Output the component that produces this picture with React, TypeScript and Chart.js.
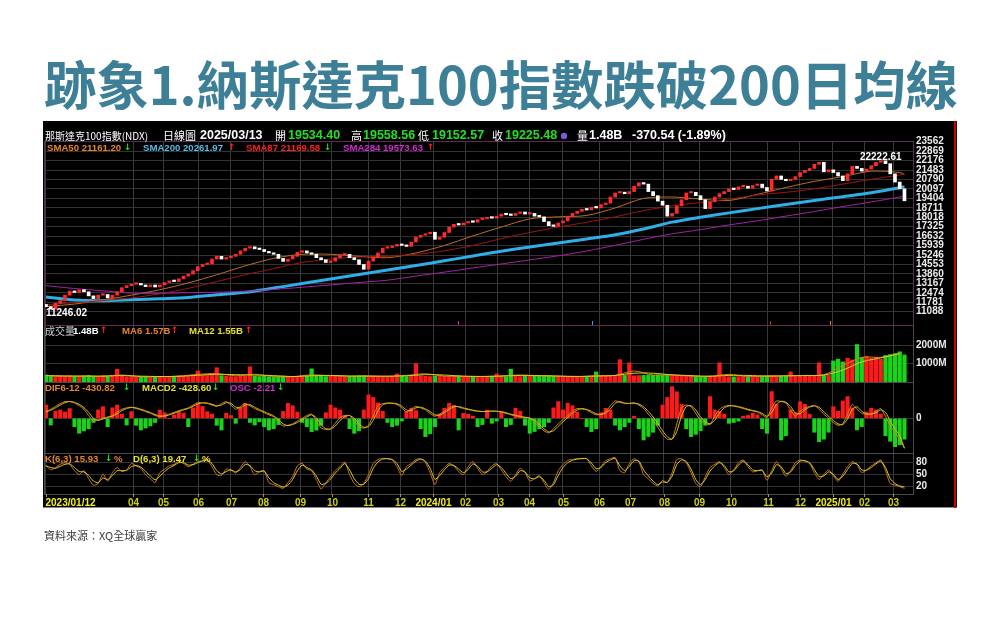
import { useEffect, useRef } from 'react';
import { Chart, registerables } from 'chart.js';

Chart.register(...registerables);

const TITLE = '跡象1.納斯達克100指數跌破200日均線';
const SOURCE = '資料來源：XQ全球贏家';

// Price closes, one value per 3 trading days (2023/01/12 .. 2025/03/13)
const CLOSE = [
  11460, 11280, 11700, 11900, 12300, 12600, 12500, 12700, 12550, 12250,
  12050, 12300, 12350, 12100, 12300, 12560, 12850, 13000, 13100, 13150,
  13050, 12930, 13050, 12900, 13050, 13230, 13350, 13300, 13500, 13700,
  13850, 14100, 14400, 14550, 14600, 14950, 15150, 14950, 15050, 15150,
  15300, 15550, 15750, 15850, 15700, 15650, 15500, 15400, 15300, 15000,
  14780, 14950, 15150, 15450, 15550, 15400, 15300, 15050, 14900, 14700,
  14800, 15050, 15250, 15300, 15050, 14900, 14550, 14200, 14800, 15100,
  15400, 15750, 15800, 15900, 16030, 15950, 15880, 16200, 16550, 16700,
  16800, 16920, 16400, 16550, 16900, 17300, 17500, 17450, 17600, 17700,
  17650, 17850, 17900, 18000, 17950, 18100, 18250, 18200, 18150, 18300,
  18400, 18250, 18300, 18100, 18050, 17700, 17400, 17350, 17600, 17750,
  18100, 18300, 18450, 18600, 18550, 18750, 18700, 18950, 19050, 19500,
  19800, 19850, 19750, 19900, 20300, 20550, 20450, 19900, 19600, 19200,
  18900, 18100, 18300, 18850, 19300, 19800, 19850, 19600, 19300, 18650,
  19150, 19500, 19750, 19900, 20100, 20050, 20250, 20300, 20150, 20350,
  20450, 20200, 19950, 20800, 21050, 20800, 20700, 20800, 21000, 21300,
  21450, 21600, 21900, 22050, 21350, 21500, 21300, 21050, 20700, 21200,
  21750, 21600, 21400, 21550, 21800, 22050, 22150, 21950, 21200, 20600,
  20100, 19225.48,
];
const FIRST_OPEN = 11620;

// Volume (M), same 3-day steps
const VOLUME = [
  380, 350, 320, 330, 300, 340, 310, 290, 330, 360,
  320, 300, 340, 310, 330, 700, 320, 290, 300, 280,
  270, 300, 260, 290, 310, 280, 300, 320, 340, 310,
  330, 350, 600, 380, 360, 400, 780, 350, 320, 300,
  290, 310, 330, 830, 320, 300, 310, 290, 280, 300,
  320, 300, 280, 290, 300, 310, 720, 330, 320, 300,
  310, 330, 300, 290, 310, 320, 340, 350, 330, 320,
  300, 310, 290, 300, 440, 330, 300, 320, 1000, 340,
  310, 300, 320, 330, 310, 300, 320, 330, 310, 300,
  290, 310, 300, 290, 310, 440, 300, 290, 700, 320,
  300, 310, 330, 320, 340, 330, 350, 320, 310, 300,
  290, 280, 300, 310, 290, 300, 550, 310, 320, 340,
  330, 1220, 360, 1050, 340, 350, 360, 380, 370, 400,
  390, 420, 380, 360, 340, 330, 320, 310, 300, 320,
  330, 310, 1050, 300, 290, 280, 300, 310, 300, 320,
  310, 330, 340, 350, 330, 320, 310, 550, 300, 310,
  320, 330, 340, 1050, 360, 380, 1150, 1250, 1100, 1300,
  1200, 2050, 1350, 1400, 1300, 1350, 1250, 1450, 1500, 1550,
  1650, 1480,
];

// Volume moving averages, one value per 4 steps
const VOL_MA6 = [
  340, 320, 320, 320, 380, 290, 290, 320, 420, 460,
  340, 420, 300, 290, 390, 340, 310, 330, 310, 360,
  450, 320, 310, 300, 340, 380, 330, 320, 290, 350,
  360, 600, 380, 390, 320, 310, 420, 300, 330, 340,
  360, 400, 900, 1350, 1350, 1570,
];
const VOL_MA12 = [
  350, 330, 325, 320, 350, 320, 300, 310, 370, 420,
  400, 380, 350, 300, 340, 360, 330, 320, 320, 340,
  400, 380, 320, 305, 320, 360, 350, 325, 305, 320,
  360, 480, 480, 390, 350, 315, 360, 360, 320, 335,
  350, 380, 650, 1100, 1320, 1550,
];

// Price moving averages, one value per 6 steps (last = final day)
const SMA50 = [11460, 11650, 11950, 12300, 12700, 13200, 13800, 14450, 15000, 15300, 15300, 15150, 15050, 15400, 15950, 16650, 17300, 17900, 18050, 18150, 18700, 19400, 19500, 19350, 19250, 19700, 20200, 20650, 21000, 21400, 21300, 21161.2];
const SMA200 = [12170, 11950, 11900, 11960, 12040, 12130, 12330, 12510, 12820, 13150, 13480, 13820, 14150, 14480, 14820, 15180, 15530, 15840, 16130, 16420, 16730, 17160, 17660, 18020, 18340, 18650, 18950, 19250, 19530, 19820, 20180, 20261.97];
const SMA87 = [11600, 11750, 11900, 12100, 12400, 12800, 13300, 13800, 14250, 14700, 14950, 15100, 15150, 15300, 15550, 15950, 16450, 16900, 17300, 17650, 18050, 18500, 18850, 19100, 19350, 19650, 19850, 20100, 20450, 20800, 21120, 21169.58];
const SMA284 = [13000, 12790, 12620, 12450, 12440, 12480, 12520, 12580, 12720, 12880, 13050, 13230, 13400, 13700, 13990, 14300, 14590, 14890, 15190, 15540, 15960, 16400, 16800, 17110, 17450, 17760, 18100, 18440, 18800, 19140, 19500, 19573.63];

// MACD
const DIF = [
  100, 130, 170, 210, 240, 240, 220, 180, 130, 40,
  -40, -20, 0, 20, 40, 90, 130, 150, 160, 140,
  120, 95, 70, 40, 25, 40, 60, 85, 110, 130,
  150, 190, 224, 220, 215, 190, 170, 210, 240, 190,
  130, 170, 210, 180, 140, 110, 80, 50, 20, -50,
  -110, -100, -80, -40, 0, 40, 60, -40, -140, -160,
  -150, -70, 10, 40, 40, -40, -120, -140, -100, 40,
  180, 210, 220, 215, 200, 150, 90, 130, 170, 150,
  120, 70, 30, 60, 100, 150, 180, 160, 140, 125,
  110, 100, 95, 100, 105, 100, 90, 70, 50, 35,
  20, 10, 0, -60, -120, -180, -210, -150, -80, -20,
  40, 100, 140, 135, 120, 80, 50, 60, 90, 180,
  250, 230, 210, 215, 220, 190, 140, 60, -20, -130,
  -230, -300, -300, -80, 150, 190, 170, 70, -30, -70,
  -90, 30, 130, 170, 185, 175, 160, 140, 120, 105,
  90, 50, 10, 150, 250, 240, 220, 120, 30, 100,
  150, 170, 185, 130, 60, 0, -60, -100, -80, 60,
  200, 130, 70, 60, 60, 100, 140, 30, -110, -200,
  -300, -430.82,
];
const MACD = [
  90, 115, 150, 190, 225, 240, 230, 200, 155, 85,
  0, -30, -10, 10, 30, 65, 110, 140, 155, 150,
  130, 108, 82, 55, 32, 32, 50, 72, 98, 120,
  140, 170, 207, 222, 218, 202, 180, 190, 225, 215,
  160, 150, 190, 195, 160, 125, 95, 65, 35, -15,
  -80, -105, -90, -60, -20, 20, 50, 10, -90, -150,
  -155, -110, -30, 25, 40, 0, -80, -130, -120, -30,
  110, 195, 215, 218, 208, 175, 120, 110, 150, 160,
  135, 95, 50, 45, 80, 125, 165, 170, 150, 132,
  118, 105, 98, 98, 102, 102, 95, 80, 60, 42,
  28, 15, 5, -30, -90, -150, -195, -180, -115, -50,
  10, 70, 120, 138, 128, 100, 65, 55, 75, 135,
  215, 240, 220, 212, 218, 205, 165, 100, 20, -75,
  -180, -265, -300, -190, 35, 170, 180, 120, 20, -50,
  -80, -30, 80, 150, 178, 180, 168, 150, 130, 112,
  98, 70, 30, 80, 200, 245, 230, 170, 75, 65,
  125, 160, 178, 158, 95, 30, -30, -80, -90, -10,
  130, 165, 100, 65, 60, 80, 120, 85, -40, -155,
  -250, -428.6,
];
const OSC = [
  191, -96, 100, 119, 90, 140, -120, -215, -180, -150,
  -60, 120, 167, -120, 150, 191, 60, -96, 96, -100,
  -168, -140, -110, -60, 119, 80, 0, 50, 96, 70,
  -120, 150, 215, 170, 96, 60, -100, -168, 72, 40,
  -72, 150, 215, -60, -96, -50, -120, -168, -150, -90,
  100, 215, 180, 90, -60, -120, -191, -170, -100, 80,
  191, 150, 120, 40, -150, -215, -180, 120, 335, 300,
  220, 100, -60, -120, -100, -40, 100, 144, 110, -150,
  -263, -220, -120, 60, 144, 215, 180, -168, 72, 60,
  30, -120, -90, 119, -72, -40, 96, -120, -90, 143,
  100, -100, -215, -190, -150, -120, -60, 150, 239, 120,
  215, 180, 90, 0, -120, -191, -150, 80, 143, 120,
  -100, -167, -120, -60, 30, -150, -311, -260, -200, -100,
  190, 300, 454, 380, 200, -150, -263, -230, -180, -100,
  311, 120, 100, 60, -72, -60, -40, 30, 40, 72,
  50, -150, -215, 383, 200, -311, -250, 120, 80, 239,
  200, 60, -200, -335, -300, -200, 167, 100, 250, 311,
  150, -167, -120, 90, 143, 120, 60, -250, -330, -407,
  -380, -300,
];

// KD
const K_VALUES = [
  74, 62, 68, 76, 80, 76, 60, 50, 60, 40,
  24, 28, 52, 34, 55, 68, 58, 62, 78, 72,
  66, 50, 40, 30, 55, 64, 72, 76, 83, 78,
  70, 76, 83, 85, 87, 70, 50, 48, 64, 62,
  54, 68, 83, 70, 50, 58, 60, 30, 25, 20,
  16, 30, 45, 72, 79, 64, 60, 38, 14, 30,
  45, 60, 70, 82, 50, 28, 20, 28, 50, 78,
  88, 91, 90, 87, 70, 48, 70, 78, 88, 90,
  80, 55, 25, 55, 68, 78, 72, 58, 50, 70,
  83, 66, 50, 58, 72, 78, 62, 45, 33, 50,
  66, 55, 34, 40, 48, 30, 13, 30, 60, 75,
  86, 88, 90, 91, 90, 72, 58, 70, 85, 90,
  93, 60, 55, 78, 90, 82, 50, 40, 28, 22,
  36, 30, 55, 88, 90, 80, 55, 28, 20, 45,
  68, 76, 83, 68, 50, 62, 80, 87, 70, 57,
  60, 62, 36, 60, 83, 65, 46, 60, 80, 87,
  84, 78, 55, 38, 50, 62, 48, 33, 52, 70,
  83, 75, 55, 62, 72, 80, 87, 60, 28, 24,
  20, 15.93,
];
const D_VALUES = [
  72, 68, 66, 71, 76, 77, 68, 58, 57, 48,
  34, 30, 42, 38, 48, 60, 60, 61, 70, 73,
  69, 58, 47, 37, 46, 58, 67, 73, 80, 80,
  74, 75, 80, 84, 86, 78, 60, 52, 58, 62,
  57, 63, 76, 73, 60, 57, 59, 42, 30, 24,
  19, 24, 38, 60, 74, 68, 62, 47, 26, 28,
  39, 54, 66, 78, 62, 40, 26, 26, 40, 66,
  82, 89, 90, 88, 78, 58, 64, 74, 84, 89,
  84, 66, 38, 48, 62, 74, 73, 64, 55, 63,
  77, 71, 57, 57, 66, 75, 68, 53, 40, 46,
  60, 57, 42, 40, 45, 36, 20, 25, 48, 68,
  80, 86, 89, 90, 90, 79, 65, 68, 80, 87,
  91, 72, 60, 71, 85, 84, 62, 47, 34, 25,
  32, 31, 46, 76, 87, 83, 64, 38, 25, 38,
  59, 72, 80, 73, 57, 60, 74, 84, 75, 62,
  60, 61, 45, 54, 75, 70, 53, 57, 73, 84,
  85, 80, 63, 45, 47, 57, 51, 38, 46, 63,
  78, 77, 62, 61, 68, 77, 84, 68, 40, 28,
  22, 19.47,
];

// Axis ticks
const PRICE_TICKS = [23562, 22869, 22176, 21483, 20790, 20097, 19404, 18711, 18018, 17325, 16632, 15939, 15246, 14553, 13860, 13167, 12474, 11781, 11088];
const VOLUME_TICKS = [2000, 1000];
const MACD_TICKS = [0];
const KD_TICKS = [80, 50, 20];
const MONTH_POS = [0, 18.35, 24.7, 32.05, 39, 45.8, 53.6, 60.3, 67.9, 74.7, 81.6, 88.4, 95.3, 101.9, 109, 116.6, 123.2, 130.3, 137.7, 144.4, 152.2, 158.9, 165.9, 172.5, 178.6];
const MONTH_LABELS = ['2023/01/12', '04', '05', '06', '07', '08', '09', '10', '11', '12', '2024/01', '02', '03', '04', '05', '06', '07', '08', '09', '10', '11', '12', '2025/01', '02', '03'];

// Header / legend values
const HEADER_NAME = '那斯達克100指數(NDX)';
const HEADER_DATE = '2025/03/13';
const HEADER_OHLC = ['19534.40', '19558.56', '19152.57', '19225.48'];
const HEADER_VOL = '1.48B';
const HEADER_CHANGE = '-370.54 (-1.89%)';
const SMA_LAST = ['21161.20', '20261.97', '21169.58', '19573.63'];
const VOL_LAST = ['1.48B', '1.57B', '1.55B'];
const MACD_LAST = ['-430.82', '-428.60', '-2.21'];
const KD_LAST = ['15.93', '19.47'];
const EXTREME_VALUES = [11246.02, 22222.61];
const EXTREME_POS = [0, 176];
const MARK_POS = [86.9, 115.1, 152.7, 165.3];

const SMA_STEP = 6;
const VOL_MA_STEP = 4;
const LAST_K = CLOSE.length - 1;

const F_NUM = 'bold 10px "Liberation Sans", Arial, sans-serif';
const F_LEG = 'bold 9.6px "Liberation Sans", Arial, sans-serif';
const F_HEAD = 'bold 12.5px "Liberation Sans", Arial, sans-serif';
const F_CJK = '10px "Noto Sans CJK TC", sans-serif';
const F_CJK_H = '11px "Noto Sans CJK TC", sans-serif';
const F_ARROW = 'bold 9px "DejaVu Sans", sans-serif';
const GREEN_TXT = '#22e022';
const RED_TXT = '#ff2020';
const C_ORANGE = '#e8842a';
const C_YELLOW = '#e6e030';
const C_MAGENTA = '#d42ad4';

function txt(ctx: CanvasRenderingContext2D, s: string, x: number, y: number, color: string, font: string, align: CanvasTextAlign = 'left') {
  ctx.font = font;
  ctx.fillStyle = color;
  ctx.textAlign = align;
  ctx.textBaseline = 'middle';
  ctx.fillText(s, x, y);
}

const pagePlugin = {
  id: 'page',
  beforeDraw(chart: any) {
    const ctx: CanvasRenderingContext2D = chart.ctx;
    ctx.save();
    ctx.fillStyle = '#ffffff';
    ctx.fillRect(0, 0, 1000, 630);
    // title fitted to width
    let size = 53;
    ctx.font = `bold ${size}px "Noto Sans CJK TC", sans-serif`;
    const w = ctx.measureText(TITLE).width;
    size = size * 914 / w;
    txt(ctx, TITLE, 44, 85, '#3e7f98', `bold ${size}px "Noto Sans CJK TC", sans-serif`);
    txt(ctx, SOURCE, 44, 536, '#3a3a3a', '11px "Noto Sans CJK TC", sans-serif');
    ctx.fillStyle = '#000000';
    ctx.fillRect(43, 121, 914, 387);
    ctx.restore();
  },
  afterDraw(chart: any) {
    const ctx: CanvasRenderingContext2D = chart.ctx;
    const { left, right } = chart.chartArea;
    const x = chart.scales.x;
    const yP = chart.scales.yPrice;
    const yV = chart.scales.yVol;
    const yM = chart.scales.yMacd;
    const yK = chart.scales.yKd;
    ctx.save();
    // panel borders
    ctx.lineWidth = 1;
    ctx.strokeStyle = '#5e2a52';
    ctx.strokeRect(left + 0.5, yP.top + 0.5, right - left, yP.bottom - yP.top);
    ctx.strokeStyle = '#4a4a4a';
    [yV, yM, yK].forEach((s: any) => ctx.strokeRect(left + 0.5, s.top + 0.5, right - left, s.bottom - s.top));
    ctx.strokeStyle = '#5e2a52';
    ctx.beginPath();
    ctx.moveTo(left, yP.bottom + 0.5); ctx.lineTo(right, yP.bottom + 0.5);
    ctx.stroke();
    // bottom border of picture
    ctx.strokeStyle = '#8a8a8a';
    ctx.beginPath();
    ctx.moveTo(43, 507.5); ctx.lineTo(957, 507.5);
    ctx.stroke();
    // right red line
    ctx.fillStyle = '#d40000';
    ctx.fillRect(954, 121, 2, 387);

    // y tick labels
    PRICE_TICKS.forEach((v) => txt(ctx, String(v), right + 3, yP.getPixelForValue(v), '#ececec', F_NUM));
    VOLUME_TICKS.forEach((v) => txt(ctx, `${v}M`, right + 3, yV.getPixelForValue(v), '#ececec', F_NUM));
    MACD_TICKS.forEach((v) => txt(ctx, String(v), right + 3, yM.getPixelForValue(v), '#ececec', F_NUM));
    KD_TICKS.forEach((v) => txt(ctx, String(v), right + 3, yK.getPixelForValue(v), '#ececec', F_NUM));

    // date axis
    const axisBottom = yK.bottom;
    MONTH_POS.forEach((p, i) => {
      const px = Math.round(x.getPixelForValue(p)) + 0.5;
      ctx.strokeStyle = '#9a9a40';
      ctx.beginPath();
      ctx.moveTo(px, axisBottom); ctx.lineTo(px, axisBottom + 3);
      ctx.stroke();
      const label = MONTH_LABELS[i];
      const isYear = label.includes('/');
      const color = isYear ? '#f4f020' : '#d2d010';
      if (i === 0) txt(ctx, label, px - 1, 503, color, F_NUM, 'left');
      else txt(ctx, label, px, 503, color, F_NUM, 'center');
    });

    // header
    const hy = 136;
    txt(ctx, HEADER_NAME, 45, hy, '#ffffff', F_CJK);
    txt(ctx, '日線圖', 163, hy, '#ffffff', F_CJK_H);
    txt(ctx, HEADER_DATE, 200, hy, '#ffffff', F_HEAD);
    const ohlcNames = ['開', '高', '低', '收'];
    const nameX = [275, 351, 418, 492];
    const valX = [288, 363, 432, 505];
    ohlcNames.forEach((n, i) => {
      txt(ctx, n, nameX[i], hy, '#ffffff', F_CJK_H);
      txt(ctx, HEADER_OHLC[i], valX[i], hy, GREEN_TXT, F_HEAD);
    });
    ctx.fillStyle = '#7a5cd0';
    ctx.beginPath(); ctx.arc(564, hy, 3.2, 0, Math.PI * 2); ctx.fill();
    txt(ctx, '量', 577, hy, '#ffffff', F_CJK_H);
    txt(ctx, HEADER_VOL, 589, hy, '#ffffff', F_HEAD);
    txt(ctx, HEADER_CHANGE, 632, hy, '#ffffff', F_HEAD);

    // SMA legend
    const sy = 148;
    txt(ctx, `SMA50 ${SMA_LAST[0]}`, 47, sy, C_ORANGE, F_LEG);
    txt(ctx, '↓', 124, sy, GREEN_TXT, F_ARROW);
    txt(ctx, `SMA200 ${SMA_LAST[1]}`, 143, sy, '#56bce8', F_LEG);
    txt(ctx, '↑', 228, sy, RED_TXT, F_ARROW);
    txt(ctx, `SMA87 ${SMA_LAST[2]}`, 246, sy, RED_TXT, F_LEG);
    txt(ctx, '↓', 324, sy, GREEN_TXT, F_ARROW);
    txt(ctx, `SMA284 ${SMA_LAST[3]}`, 343, sy, C_MAGENTA, F_LEG);
    txt(ctx, '↑', 427, sy, RED_TXT, F_ARROW);

    // volume legend
    const vy = 331;
    txt(ctx, '成交量', 45, vy, '#d0d0d0', F_CJK);
    txt(ctx, VOL_LAST[0], 73, vy, '#ffffff', F_LEG);
    txt(ctx, '↑', 100, vy, RED_TXT, F_ARROW);
    txt(ctx, `MA6 ${VOL_LAST[1]}`, 122, vy, C_ORANGE, F_LEG);
    txt(ctx, '↑', 171, vy, RED_TXT, F_ARROW);
    txt(ctx, `MA12 ${VOL_LAST[2]}`, 189, vy, C_YELLOW, F_LEG);
    txt(ctx, '↑', 245, vy, RED_TXT, F_ARROW);

    // MACD legend
    const my = 388;
    txt(ctx, `DIF6-12 ${MACD_LAST[0]}`, 45, my, C_ORANGE, F_LEG);
    txt(ctx, '↓', 123, my, GREEN_TXT, F_ARROW);
    txt(ctx, `MACD2 ${MACD_LAST[1]}`, 142, my, C_YELLOW, F_LEG);
    txt(ctx, '↓', 212, my, GREEN_TXT, F_ARROW);
    txt(ctx, `OSC ${MACD_LAST[2]}`, 230, my, C_MAGENTA, F_LEG);
    txt(ctx, '↓', 277, my, GREEN_TXT, F_ARROW);

    // KD legend
    const ky = 459;
    txt(ctx, `K(6,3) ${KD_LAST[0]}`, 45, ky, C_ORANGE, F_LEG);
    txt(ctx, '↓', 105, ky, GREEN_TXT, F_ARROW);
    txt(ctx, '%', 114, ky, C_ORANGE, F_LEG);
    txt(ctx, `D(6,3) ${KD_LAST[1]}`, 133, ky, C_YELLOW, F_LEG);
    txt(ctx, '↓', 193, ky, GREEN_TXT, F_ARROW);
    txt(ctx, '%', 202, ky, C_YELLOW, F_LEG);

    // extreme labels
    txt(ctx, EXTREME_VALUES[0].toFixed(2), x.getPixelForValue(EXTREME_POS[0]), yP.getPixelForValue(EXTREME_VALUES[0]) + 3.5, '#ffffff', F_NUM, 'left');
    txt(ctx, EXTREME_VALUES[1].toFixed(2), x.getPixelForValue(EXTREME_POS[1]), yP.getPixelForValue(EXTREME_VALUES[1]) - 3, '#ffffff', F_NUM, 'center');

    // small signal marks at bottom of price panel
    const markColors = ['#c020c0', '#40a0e0', '#e02020', '#e08020'];
    MARK_POS.forEach((p, i) => {
      ctx.fillStyle = markColors[i];
      ctx.fillRect(Math.round(x.getPixelForValue(p)), yP.bottom - 4, 1, 4);
    });
    ctx.restore();
  },
};

export default function App() {
  const ref = useRef<HTMLCanvasElement>(null);
  useEffect(() => {
    document.body.style.margin = '0';
    const canvas = ref.current;
    if (!canvas) return;
    const opens = CLOSE.map((c, i) => (i === 0 ? FIRST_OPEN : CLOSE[i - 1]));
    const up = CLOSE.map((c, i) => c >= opens[i]);
    const pts = (arr: number[], step: number) => arr.map((v, i) => ({ x: Math.min(i * step, LAST_K), y: v }));
    const line = (data: any, axis: string, color: string, width = 1, tension = 0) => ({
      type: 'line', data, yAxisID: axis, borderColor: color, borderWidth: width, pointRadius: 0, tension, fill: false, order: 1,
    });
    const yAxis = (weight: number, min: number, max: number, ticks: number[]) => ({
      type: 'linear', position: 'right', stack: 'panels', stackWeight: weight, min, max, offset: false,
      border: { display: false },
      grid: { color: '#333333', drawTicks: false, lineWidth: 1 },
      ticks: { display: false },
      afterBuildTicks: (axis: any) => { axis.ticks = ticks.map((v) => ({ value: v })); },
      afterFit: (axis: any) => { axis.width = 43; },
    });

    const chart = new Chart(canvas, {
      type: 'bar',
      data: {
        datasets: [
          {
            type: 'bar', data: CLOSE.map((c, i) => ({ x: i, y: [opens[i], c] })), yAxisID: 'yPrice',
            backgroundColor: up.map((u) => (u ? '#ff2a2a' : '#ffffff')), barThickness: 3, minBarLength: 1.5, order: 0,
          },
          line(pts(SMA284, SMA_STEP), 'yPrice', '#a820a8', 1, 0.3),
          line(pts(SMA87, SMA_STEP), 'yPrice', '#a01414', 1, 0.3),
          line(pts(SMA50, SMA_STEP), 'yPrice', '#b8701c', 1, 0.3),
          line(pts(SMA200, SMA_STEP), 'yPrice', '#30aee6', 3, 0.3),
          {
            type: 'bar', data: VOLUME.map((v, i) => ({ x: i, y: v })), yAxisID: 'yVol',
            backgroundColor: up.map((u) => (u ? '#ff1a1a' : '#1ad41a')), barThickness: 3.6, order: 3,
          },
          line(pts(VOL_MA12, VOL_MA_STEP), 'yVol', '#d8d020', 1, 0.3),
          line(pts(VOL_MA6, VOL_MA_STEP), 'yVol', '#d07a20', 1, 0.3),
          {
            type: 'bar', data: OSC.map((v, i) => ({ x: i, y: v })), yAxisID: 'yMacd',
            backgroundColor: OSC.map((v) => (v >= 0 ? '#ff1a1a' : '#1ad41a')), barThickness: 3.4, order: 3,
          },
          line(pts(MACD, 1), 'yMacd', '#d8c020', 1, 0.2),
          line(pts(DIF, 1), 'yMacd', '#d88a20', 1, 0.2),
          line(pts(D_VALUES, 1), 'yKd', '#d8d020', 1, 0.2),
          line(pts(K_VALUES, 1), 'yKd', '#d0702a', 1, 0.2),
        ] as any,
      },
      options: {
        responsive: false,
        maintainAspectRatio: false,
        animation: false,
        devicePixelRatio: 1,
        events: [],
        layout: { padding: { left: 44, right: 44, top: 141, bottom: 123 } },
        datasets: { bar: { grouped: false, borderWidth: 0 } as any },
        plugins: { legend: { display: false }, tooltip: { enabled: false } },
        scales: {
          x: {
            type: 'linear', position: 'bottom', min: -0.42, max: 182.8, offset: false,
            grid: { color: '#383838', drawTicks: false, offset: false },
            border: { display: false },
            ticks: { display: false },
            afterBuildTicks: (axis: any) => { axis.ticks = MONTH_POS.map((v) => ({ value: v })); },
            afterFit: (axis: any) => { axis.height = 13; },
          },
          yPrice: yAxis(184, 10112, 23613, PRICE_TICKS),
          yVol: yAxis(57, 0, 3115, VOLUME_TICKS),
          yMacd: yAxis(71, -498, 521, MACD_TICKS),
          yKd: yAxis(41, 1.75, 104.25, KD_TICKS),
        } as any,
      },
      plugins: [pagePlugin],
    } as any);
    return () => chart.destroy();
  }, []);
  return (
    <canvas
      ref={ref}
      width={1000}
      height={630}
      style={{ position: 'absolute', left: 0, top: 0, width: 1000, height: 630 }}
    />
  );
}
